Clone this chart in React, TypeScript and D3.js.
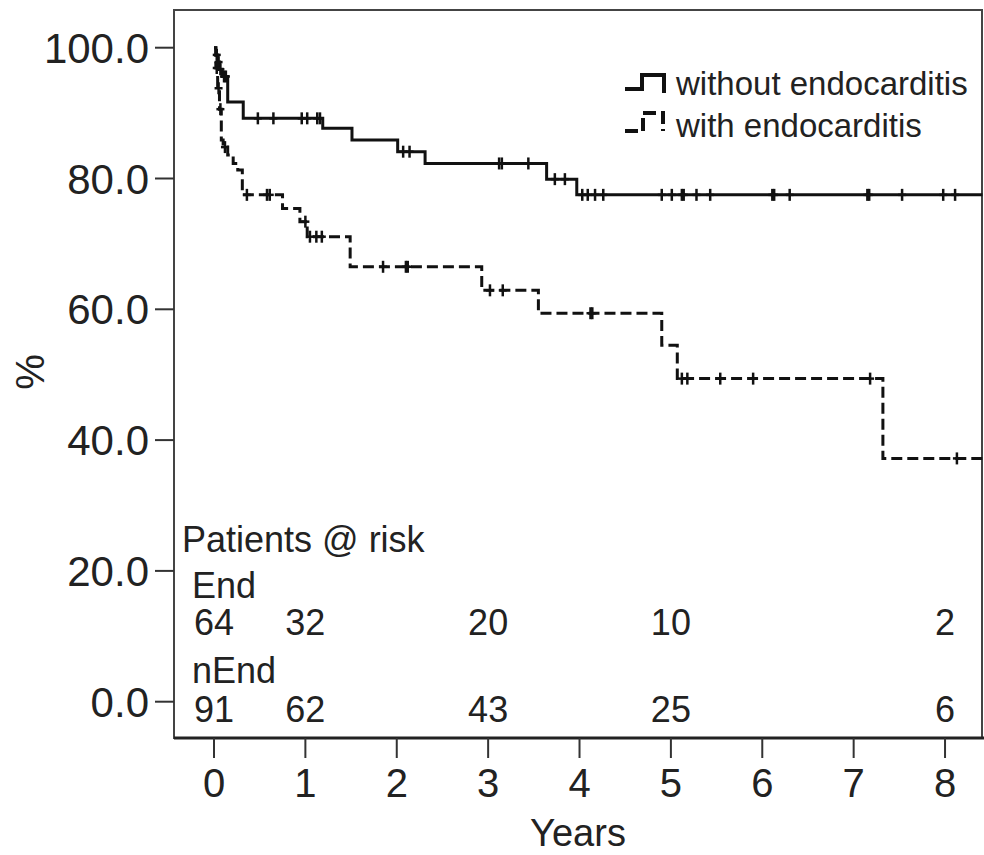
import React from 'react'
import * as d3 from 'd3'

// Kaplan-Meier, without endocarditis: drop times (years) and survival (%) after each drop
const nonEndTimes = [0, 0.02, 0.04, 0.06, 0.09, 0.15, 0.32, 1.19, 1.51, 2.01, 2.31, 3.64, 3.97]
const nonEndSurv = [100, 98.9, 97.8, 96.7, 95.6, 91.7, 89.2, 87.7, 85.9, 84.1, 82.3, 79.9, 77.5]
const nonEndCensor = [0.03, 0.05, 0.07, 0.11, 0.13, 0.48, 0.65, 0.96, 1.02, 1.13, 1.16, 2.07, 2.14,
  3.12, 3.15, 3.44, 3.73, 3.84, 4.03, 4.09, 4.17, 4.26, 4.9, 5.01, 5.12, 5.14, 5.28, 5.43,
  6.11, 6.13, 6.3, 7.15, 7.17, 7.53, 7.98, 8.11]

// with endocarditis
const endTimes = [0, 0.02, 0.04, 0.06, 0.08, 0.1, 0.15, 0.21, 0.26, 0.31, 0.75, 0.94, 1.02, 1.49, 2.93, 3.55, 4.9, 5.07, 7.32]
const endSurv = [100, 96.9, 93.8, 90.6, 85.9, 84.8, 83.6, 82.3, 81.3, 77.5, 75.4, 73.4, 71.1, 66.5, 62.9, 59.4, 54.5, 49.4, 37.2]
const endCensor = [0.03, 0.05, 0.07, 0.12, 0.36, 0.58, 0.61, 1.0, 1.05, 1.12, 1.18, 1.85, 2.1, 2.12,
  3.02, 3.16, 4.12, 4.14, 5.12, 5.18, 5.54, 5.9, 7.18, 8.13]

const lastTime = 8.41
const yTicks = [0, 20, 40, 60, 80, 100]
const xTicks = [0, 1, 2, 3, 4, 5, 6, 7, 8]

// patients at risk
const riskTimes = [0, 1, 3, 5, 8]
const riskEnd = [64, 32, 20, 10, 2]
const riskNEnd = [91, 62, 43, 25, 6]

const legendLabels = ['without endocarditis', 'with endocarditis']

const font = '"Liberation Sans", Arial, sans-serif'
const ink = '#111'

const survAt = (times: number[], surv: number[], t: number) => {
  let s = surv[0]
  times.forEach((tt, i) => { if (tt <= t) s = surv[i] })
  return s
}

const App = () => {
  const left = 174, top = 10, right = 982, bottom = 738
  const x = d3.scaleLinear().domain([0, lastTime]).range([214, 982.5])
  const y = d3.scaleLinear().domain([0, 100]).range([701.7, 47.7])

  const stepLine = d3.line<[number, number]>()
    .x(d => x(d[0]))
    .y(d => y(d[1]))
    .curve(d3.curveStepAfter)

  const pts = (times: number[], surv: number[]) => {
    const p = times.map((t, i) => [t, surv[i]] as [number, number])
    p.push([lastTime, surv[surv.length - 1]])
    return p
  }

  const censorMarks = (times: number[], surv: number[], cens: number[], key: string) =>
    cens.map((t, i) => {
      const cx = x(t), cy = y(survAt(times, surv, t))
      return (
        <g key={key + i} stroke={ink} strokeWidth={2.5}>
          <line x1={cx} x2={cx} y1={cy - 6} y2={cy + 6} />
          <line x1={cx - 4} x2={cx + 4} y1={cy} y2={cy} />
        </g>
      )
    })

  return (
    <svg width={984} height={855} style={{ position: 'absolute', left: 0, top: 0, background: '#fff' }}
      fontFamily={font}>
      {/* frame */}
      <rect x={left} y={top} width={right - left} height={bottom - top} fill="none" stroke="#444" strokeWidth={2} />
      <line x1={left} x2={right + 2} y1={bottom} y2={bottom} stroke="#222" strokeWidth={3} />

      {/* y axis */}
      {yTicks.map(v => (
        <g key={'y' + v}>
          <line x1={155} x2={left} y1={y(v)} y2={y(v)} stroke="#333" strokeWidth={2} />
          <text x={149} y={y(v)} dy="0.36em" textAnchor="end" fontSize={42} fill="#222">{d3.format('.1f')(v)}</text>
        </g>
      ))}
      <text transform={`translate(44,${372}) rotate(-90)`} textAnchor="middle" fontSize={40} fill="#222">%</text>

      {/* x axis */}
      {xTicks.map(v => (
        <g key={'x' + v}>
          <line x1={x(v)} x2={x(v)} y1={bottom} y2={bottom + 20} stroke="#333" strokeWidth={2} />
          <text x={x(v)} y={797} textAnchor="middle" fontSize={40} fill="#222">{v}</text>
        </g>
      ))}
      <text x={578} y={846} textAnchor="middle" fontSize={38} fill="#222">Years</text>

      {/* curves */}
      <path d={stepLine(pts(nonEndTimes, nonEndSurv)) || ''} fill="none" stroke={ink} strokeWidth={3} />
      <path d={stepLine(pts(endTimes, endSurv)) || ''} fill="none" stroke={ink} strokeWidth={3} strokeDasharray="11,5" />
      {censorMarks(nonEndTimes, nonEndSurv, nonEndCensor, 'n')}
      {censorMarks(endTimes, endSurv, endCensor, 'e')}

      {/* legend */}
      <path d="M625,89 H642 V75 H664 V93" fill="none" stroke={ink} strokeWidth={4} />
      <text x={676} y={95} fontSize={33} fill="#222">{legendLabels[0]}</text>
      <path d="M625,131 H643 V113 H663 V131" fill="none" stroke={ink} strokeWidth={4} strokeDasharray="13,5" />
      <text x={676} y={137} fontSize={33} fill="#222">{legendLabels[1]}</text>

      {/* patients at risk */}
      <text x={182} y={552} fontSize={36} fill="#222">Patients @ risk</text>
      <text x={192} y={598} fontSize={36} fill="#222">End</text>
      {riskTimes.map((t, i) => (
        <text key={'re' + i} x={x(t)} y={635} textAnchor="middle" fontSize={36} fill="#222">{riskEnd[i]}</text>
      ))}
      <text x={192} y={683} fontSize={36} fill="#222">nEnd</text>
      {riskTimes.map((t, i) => (
        <text key={'rn' + i} x={x(t)} y={722} textAnchor="middle" fontSize={36} fill="#222">{riskNEnd[i]}</text>
      ))}
    </svg>
  )
}

export default App
